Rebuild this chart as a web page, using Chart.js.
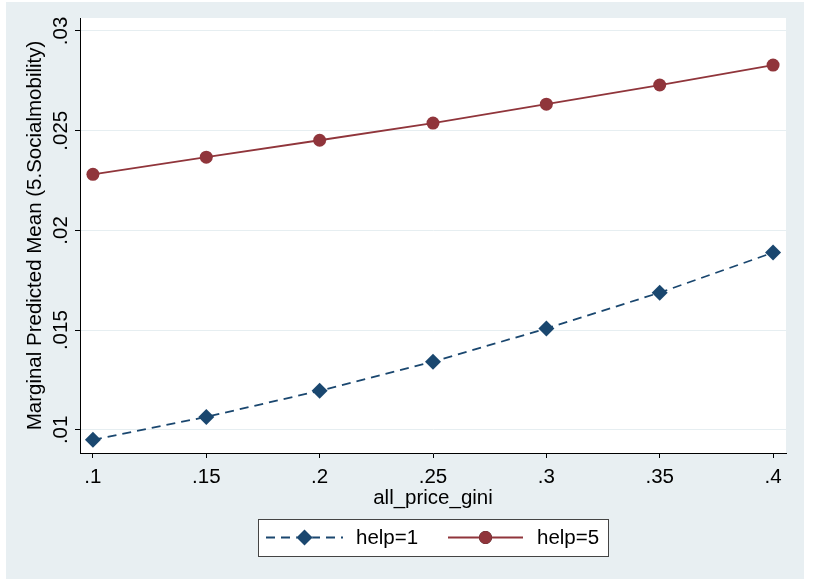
<!DOCTYPE html>
<html lang="en">
<head>
<meta charset="UTF-8">
<title>Marginal Predicted Mean</title>
<script src="https://cdn.jsdelivr.net/npm/chart.js"></script>
<style>
  html, body { margin: 0; padding: 0; background: #fff; }
  #frame { position: absolute; left: 6px; top: 2px; width: 798px; height: 577px; background: #e8eff2; }
</style>
</head>
<body>
<div id="frame"><canvas id="chart"></canvas></div>
<script>
// data
const giniValues = [0.10, 0.15, 0.20, 0.25, 0.30, 0.35, 0.40];
const help1 = [0.0095, 0.01065, 0.01196, 0.01342, 0.01508, 0.01688, 0.01889];
const help5 = [0.02281, 0.02367, 0.02452, 0.02538, 0.02633, 0.02729, 0.02829];
const seriesNames = ['help=1', 'help=5'];
const yTitle = 'Marginal Predicted Mean (5.Socialmobility)';
const xTitle = 'all_price_gini';

const navy = '#1a476f';
const maroon = '#90353b';
const fontFam = '"Liberation Sans", Arial, sans-serif';
const fontSize = 20.5;

function fmt(v) {
    return String(+v.toFixed(4)).replace(/^0\./, '.');
}

// white plot region, rotated y tick labels, legend box
const stataLook = {
    id: 'stataLook',
    beforeDraw(chart) {
        const a = chart.chartArea;
        const ctx = chart.ctx;
        ctx.save();
        ctx.fillStyle = '#fff';
        ctx.fillRect(a.left, a.top, a.right - a.left, a.bottom - a.top);
        ctx.restore();
    },
    afterDraw(chart) {
        const ctx = chart.ctx;
        const ys = chart.scales.y;
        ctx.save();
        ctx.fillStyle = '#000';
        ctx.font = fontSize + 'px ' + fontFam;
        ctx.textAlign = 'center';
        ctx.textBaseline = 'middle';
        ys.ticks.forEach(t => {
            const py = ys.getPixelForValue(t.value);
            ctx.save();
            ctx.translate(55, py);
            ctx.rotate(-Math.PI / 2);
            ctx.fillText(fmt(t.value), 0, 0);
            ctx.restore();
        });

        // legend
        const bx = 252, by = 517, bw = 350, bh = 37;
        ctx.fillStyle = '#fff';
        ctx.fillRect(bx, by, bw, bh);
        ctx.strokeStyle = '#444';
        ctx.lineWidth = 1;
        ctx.strokeRect(bx + 0.5, by + 0.5, bw, bh);
        const cy = by + bh / 2;
        const items = [
            { ds: chart.data.datasets[0], x0: 260, x1: 337, tx: 350 },
            { ds: chart.data.datasets[1], x0: 442, x1: 517, tx: 531 }
        ];
        items.forEach(it => {
            const ds = it.ds;
            ctx.save();
            ctx.strokeStyle = ds.borderColor;
            ctx.lineWidth = ds.borderWidth;
            ctx.setLineDash(ds.borderDash || []);
            ctx.beginPath();
            ctx.moveTo(it.x0, cy);
            ctx.lineTo(it.x1, cy);
            ctx.stroke();
            ctx.restore();
            Chart.helpers.drawPoint(ctx, {
                pointStyle: ds.pointStyle,
                radius: ds.pointRadius,
                borderWidth: 0
            }, (it.x0 + it.x1) / 2, cy);
            ctx.fillStyle = ds.pointBackgroundColor;
            ctx.fill();
            ctx.fillStyle = '#000';
            ctx.textAlign = 'left';
            ctx.textBaseline = 'middle';
            ctx.fillText(ds.label, it.tx, cy + 1);
        });
        ctx.restore();
    }
};

const ctx = document.getElementById('chart').getContext('2d');
new Chart(ctx, {
    type: 'line',
    data: {
        datasets: [{
            label: seriesNames[0],
            data: giniValues.map((g, i) => ({ x: g, y: help1[i] })),
            borderColor: navy,
            backgroundColor: navy,
            pointBackgroundColor: navy,
            pointBorderWidth: 0,
            pointStyle: 'rectRot',
            pointRadius: 8,
            borderWidth: 1.8,
            borderDash: [9, 6],
            tension: 0,
            fill: false
        }, {
            label: seriesNames[1],
            data: giniValues.map((g, i) => ({ x: g, y: help5[i] })),
            borderColor: maroon,
            backgroundColor: maroon,
            pointBackgroundColor: maroon,
            pointBorderWidth: 0,
            pointStyle: 'circle',
            pointRadius: 6.5,
            borderWidth: 1.8,
            tension: 0,
            fill: false
        }]
    },
    options: {
        responsive: true,
        maintainAspectRatio: false,
        animation: false,
        layout: { padding: { left: 0, right: 18, top: 16, bottom: 70 } },
        plugins: {
            legend: { display: false },
            tooltip: { enabled: false }
        },
        scales: {
            x: {
                type: 'linear',
                min: 0.0943,
                max: 0.4057,
                border: { color: '#000', width: 1 },
                grid: { drawOnChartArea: false, tickLength: 5, tickColor: '#000' },
                ticks: {
                    stepSize: 0.05,
                    includeBounds: false,
                    padding: 9,
                    color: '#000',
                    font: { family: fontFam, size: fontSize, lineHeight: 1 },
                    callback: v => fmt(v)
                },
                title: {
                    display: true,
                    text: xTitle,
                    color: '#000',
                    font: { family: fontFam, size: fontSize, lineHeight: 1 },
                    padding: { top: -8, bottom: 0 }
                }
            },
            y: {
                type: 'linear',
                min: 0.00884,
                max: 0.03065,
                border: { color: '#000', width: 1 },
                grid: { color: '#e6eef1', lineWidth: 1, tickLength: 5, tickColor: '#000' },
                ticks: { stepSize: 0.005, includeBounds: false, display: false },
                title: {
                    display: true,
                    text: yTitle,
                    color: '#000',
                    font: { family: fontFam, size: fontSize, lineHeight: 1 },
                    padding: { top: 19, bottom: 0 }
                },
                afterFit: s => { s.width = 74; }
            }
        }
    },
    plugins: [stataLook]
});
</script>
</body>
</html>
